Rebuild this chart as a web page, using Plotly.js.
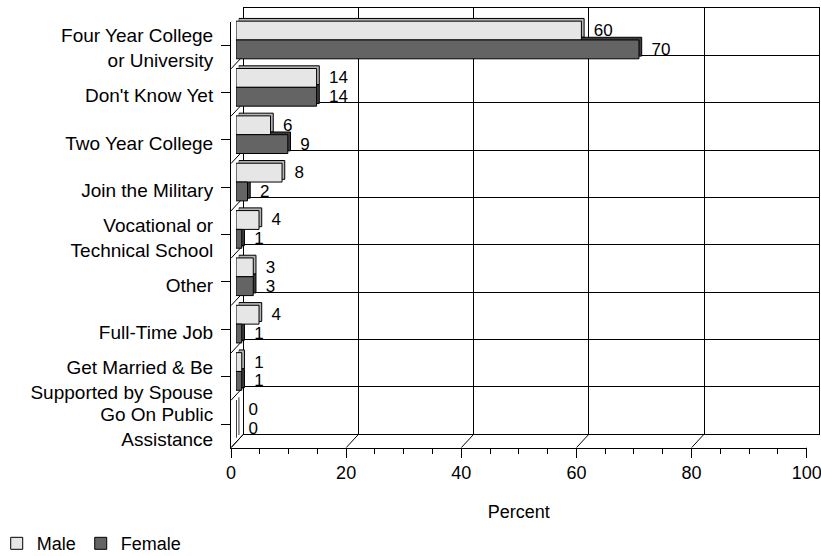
<!DOCTYPE html>
<html>
<head>
<meta charset="utf-8">
<script src="https://cdn.plot.ly/plotly-3.0.1.min.js"></script>
<style>html,body{margin:0;padding:0;background:#fff;overflow:hidden;}#chart{width:821px;height:556px;}</style>
</head>
<body>
<div id="chart"></div>
<script>
// ---- data ----
const categories = ["Four Year College<br>or University", "Don't Know Yet", "Two Year College", "Join the Military", "Vocational or<br>Technical School", "Other", "Full-Time Job", "Get Married & Be<br>Supported by Spouse", "Go On Public<br>Assistance"];
const maleValues = [60, 14, 6, 8, 4, 3, 4, 1, 0];
const femaleValues = [70, 14, 9, 2, 1, 3, 1, 1, 0];
const seriesNames = ["Male", "Female"];
const xTicks = [0, 20, 40, 60, 80, 100];

// ---- geometry (pseudo 3D) ----
const PW = 821, PH = 556;
const FX = 231, FY = 447.7, AW = 575.7, AH = 426.2, DX = 12.5, DY = 13.5;
function dom(ox, oy) {
  return { x: [(FX + ox) / PW, (FX + ox + AW) / PW], y: [(PH - FY + oy) / PH, (PH - FY + oy + AH) / PH] };
}
const dFront = dom(0, 0), dWall = dom(DX, DY), dBack = dom(7.7, 7.9), dBar = dom(5, 5.2);
const FONT = "Liberation Sans, Arial, sans-serif";
const idx = categories.map((c, i) => i);
const yRange = [categories.length - 0.5, -0.5];
const xRange = [-0.001, 100.001];
const colors = ["#e6e6e6", "#646464"];
const backColors = ["#b4b4b4", "#3c3c3c"];

const traces = [];
// empty trace so the back-wall subplot exists
traces.push({ type: "scatter", mode: "none", x: [], y: [], xaxis: "x2", yaxis: "y2", showlegend: false, hoverinfo: "skip" });
// back faces (depth)
[maleValues, femaleValues].forEach((vals, k) => {
  traces.push({
    type: "bar", orientation: "h", x: vals, y: categories, xaxis: "x3", yaxis: "y3",
    marker: { color: backColors[k], line: { color: "#000", width: 1 } },
    showlegend: false, hoverinfo: "skip", textposition: "none"
  });
});
// front faces
[maleValues, femaleValues].forEach((vals, k) => {
  traces.push({
    type: "bar", orientation: "h", x: vals, y: categories, xaxis: "x4", yaxis: "y4",
    name: seriesNames[k],
    marker: { color: colors[k], line: { color: "#000", width: 1 } },
    texttemplate: "\u00a0\u00a0%{x}", textposition: "outside", constraintext: "none", cliponaxis: false,
    outsidetextfont: { family: FONT, size: 17, color: "#000" }
  });
});

const shapes = [];
xTicks.forEach(v => shapes.push({
  type: "line", xref: "x", yref: "y", xsizemode: "pixel", ysizemode: "pixel",
  xanchor: v, yanchor: yRange[0], x0: 0, x1: DX, y0: 0, y1: DY,
  line: { color: "#000", width: 1 }, layer: "below"
}));
for (let b = -0.5; b <= categories.length - 0.5; b += 1) {
  shapes.push({
    type: "line", xref: "x", yref: "y", xsizemode: "pixel", ysizemode: "pixel",
    xanchor: 0, yanchor: b, x0: 0, x1: DX, y0: 0, y1: DY,
    line: { color: "#000", width: 1 }, layer: "below"
  });
}

const hidden = { visible: false, fixedrange: true };
const layout = {
  width: PW, height: PH,
  margin: { l: 0, r: 0, t: 0, b: 0, autoexpand: false },
  paper_bgcolor: "#fff", plot_bgcolor: "rgba(0,0,0,0)",
  font: { family: FONT, size: 18, color: "#000" },
  barmode: "group", bargap: 0.205, bargroupgap: 0,
  showlegend: true,
  legend: { orientation: "h", x: -0.004, xanchor: "left", y: -0.011, yanchor: "bottom",
            font: { family: FONT, size: 18, color: "#000" }, bgcolor: "rgba(0,0,0,0)", traceorder: "normal" },
  // front plane: ticks, labels, floor/left edges
  xaxis: { domain: dFront.x, anchor: "y", range: xRange, tickvals: xTicks, ticks: "outside", ticklen: 9, tickcolor: "#000",
           ticklabeloverflow: "allow",
           minor: { dtick: 5, ticks: "outside", ticklen: 5, tickcolor: "#000", showgrid: false },
           showline: true, linecolor: "#000", linewidth: 1, showgrid: false, zeroline: false, automargin: false, fixedrange: true,
           title: { text: "Percent", standoff: 23, font: { family: FONT, size: 18 } } },
  yaxis: { domain: dFront.y, anchor: "x", range: yRange, tickvals: idx, ticktext: categories, ticks: "outside", ticklen: 9, tickcolor: "#000",
           tickfont: { family: FONT, size: 19 }, ticklabeloverflow: "allow",
           showline: true, linecolor: "#000", linewidth: 1, showgrid: false, zeroline: false, automargin: false, fixedrange: true,
           ticklabelstandoff: 4, ticklabelshift: -3 },
  // back wall with gridlines
  xaxis2: { domain: dWall.x, anchor: "y2", range: [0, 100], tickvals: xTicks, showticklabels: false, ticks: "",
            showgrid: true, gridcolor: "#000", gridwidth: 1, showline: true, mirror: true, linecolor: "#000", linewidth: 1, zeroline: false, fixedrange: true },
  yaxis2: { domain: dWall.y, anchor: "x2", range: [0, categories.length], dtick: 1, tick0: 0, showticklabels: false, ticks: "",
            showgrid: true, gridcolor: "#000", gridwidth: 1, showline: true, mirror: true, linecolor: "#000", linewidth: 1, zeroline: false, fixedrange: true },
  xaxis3: Object.assign({ domain: dBack.x, anchor: "y3", range: [0, 100] }, hidden),
  yaxis3: Object.assign({ domain: dBack.y, anchor: "x3", type: "category", categoryorder: "array", categoryarray: categories, range: yRange }, hidden),
  xaxis4: Object.assign({ domain: dBar.x, anchor: "y4", range: [0, 100] }, hidden),
  yaxis4: Object.assign({ domain: dBar.y, anchor: "x4", type: "category", categoryorder: "array", categoryarray: categories, range: yRange }, hidden),
  shapes: shapes
};

Plotly.newPlot("chart", traces, layout, { displayModeBar: false, staticPlot: true });
</script>
</body>
</html>
